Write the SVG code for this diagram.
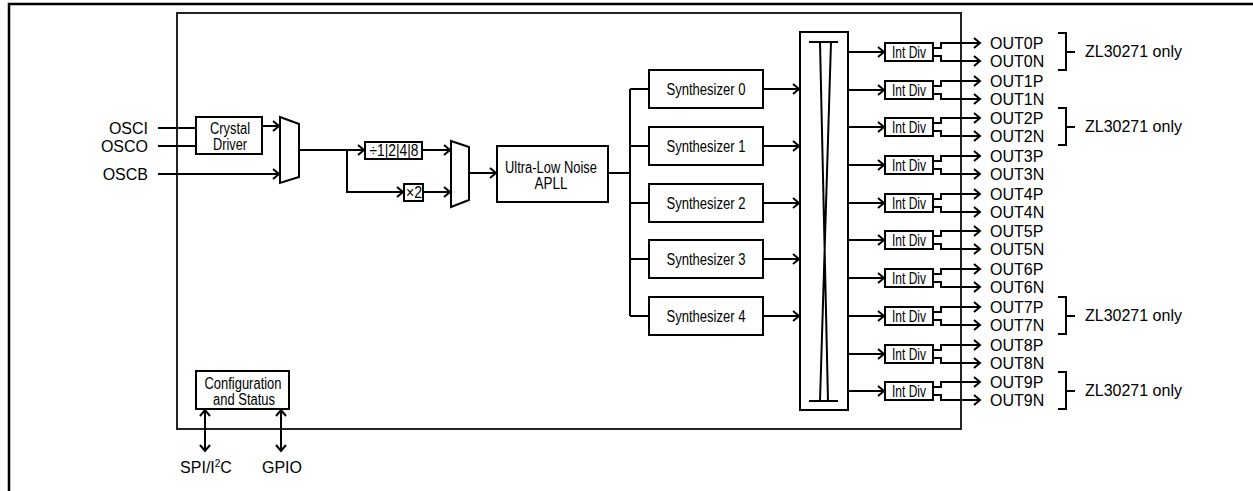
<svg xmlns="http://www.w3.org/2000/svg" width="1253" height="491" viewBox="0 0 1253 491">
<defs>
<style>
.box{fill:#fff;stroke:#000;stroke-width:2}
.ln{fill:none;stroke:#000;stroke-width:2}
.arr{fill:none;stroke:#000;stroke-width:2;marker-end:url(#ah)}
.bi{fill:none;stroke:#000;stroke-width:2;marker-start:url(#ah);marker-end:url(#ah)}
text{font-family:"Liberation Sans",Arial,sans-serif;fill:#000}
.t{font-size:16px;text-anchor:middle}
.ext{font-size:16px}
</style>
<marker id="ah" markerUnits="userSpaceOnUse" markerWidth="12" markerHeight="14" viewBox="-8 -7 10 14" refX="0" refY="0" orient="auto-start-reverse">
<path d="M-6,-5 L0,0 L-6,5" fill="none" stroke="#000" stroke-width="2"/>
</marker>
</defs>
<rect width="1253" height="491" fill="#fff"/>
<g id="frame"><path d="M9,491 V4 H1253" fill="none" stroke="#000" stroke-width="2.5"/></g>
<g id="chip"><rect x="177" y="13" width="784" height="416" fill="none" stroke="#222" stroke-width="2"/></g>

<g id="connectors">
<line class="ln" x1="158" y1="128" x2="196" y2="128"/>
<line class="ln" x1="158" y1="146" x2="196" y2="146"/>
<line class="arr" x1="158" y1="174" x2="279" y2="174"/>
<line class="arr" x1="262" y1="126" x2="279" y2="126"/>
<path class="arr" d="M299,150 H364"/>
<path class="arr" d="M347,150 V192 H403"/>
<line class="arr" x1="422" y1="150" x2="450" y2="150"/>
<line class="arr" x1="423" y1="192" x2="450" y2="192"/>
<line class="arr" x1="469" y1="173" x2="496" y2="173"/>
<path class="ln" d="M608,173 H630 M630,89 V316 M630,89 H649 M630,146 H649 M630,203 H649 M630,259 H649 M630,316 H649"/>
<line class="arr" x1="763" y1="89" x2="799" y2="89"/>
<line class="arr" x1="763" y1="146" x2="799" y2="146"/>
<line class="arr" x1="763" y1="203" x2="799" y2="203"/>
<line class="arr" x1="763" y1="259" x2="799" y2="259"/>
<line class="arr" x1="763" y1="316" x2="799" y2="316"/>
<line class="arr" x1="848" y1="52" x2="884" y2="52"/>
<line class="arr" x1="848" y1="90" x2="884" y2="90"/>
<line class="arr" x1="848" y1="127" x2="884" y2="127"/>
<line class="arr" x1="848" y1="165" x2="884" y2="165"/>
<line class="arr" x1="848" y1="203" x2="884" y2="203"/>
<line class="arr" x1="848" y1="240" x2="884" y2="240"/>
<line class="arr" x1="848" y1="278" x2="884" y2="278"/>
<line class="arr" x1="848" y1="316" x2="884" y2="316"/>
<line class="arr" x1="848" y1="354" x2="884" y2="354"/>
<line class="arr" x1="848" y1="391" x2="884" y2="391"/>
<path class="arr" d="M933,48 H941 V43 H980"/><path class="arr" d="M933,56 H941 V61 H980"/>
<path class="arr" d="M933,86 H941 V81 H980"/><path class="arr" d="M933,94 H941 V99 H980"/>
<path class="arr" d="M933,123 H941 V118 H980"/><path class="arr" d="M933,131 H941 V136 H980"/>
<path class="arr" d="M933,161 H941 V156 H980"/><path class="arr" d="M933,169 H941 V174 H980"/>
<path class="arr" d="M933,199 H941 V194 H980"/><path class="arr" d="M933,207 H941 V212 H980"/>
<path class="arr" d="M933,236 H941 V231 H980"/><path class="arr" d="M933,244 H941 V249 H980"/>
<path class="arr" d="M933,274 H941 V269 H980"/><path class="arr" d="M933,282 H941 V287 H980"/>
<path class="arr" d="M933,312 H941 V307 H980"/><path class="arr" d="M933,320 H941 V325 H980"/>
<path class="arr" d="M933,350 H941 V345 H980"/><path class="arr" d="M933,358 H941 V363 H980"/>
<path class="arr" d="M933,387 H941 V382 H980"/><path class="arr" d="M933,395 H941 V400 H980"/>
<line class="bi" x1="205" y1="410" x2="205" y2="451"/>
<line class="bi" x1="281" y1="410" x2="281" y2="451"/>
</g>

<g id="inputs-labels">
<text class="ext" x="148" y="134" text-anchor="end">OSCI</text>
<text class="ext" x="148" y="152" text-anchor="end">OSCO</text>
<text class="ext" x="148" y="180" text-anchor="end">OSCB</text>
</g>

<g id="crystal-driver">
<rect class="box" x="196" y="117" width="66" height="37"/>
<text class="t" x="230" y="134" textLength="40" lengthAdjust="spacingAndGlyphs">Crystal</text>
<text class="t" x="230" y="150" textLength="34" lengthAdjust="spacingAndGlyphs">Driver</text>
</g>
<g id="mux1"><polygon class="box" points="280,117 299,124 299,177 280,183"/></g>
<g id="div-box">
<rect class="box" x="365" y="142" width="57" height="17"/>
<text class="t" x="394" y="156" textLength="49" lengthAdjust="spacingAndGlyphs">÷1|2|4|8</text>
</g>
<g id="x2-box">
<rect class="box" x="404" y="184" width="19" height="17"/>
<text class="t" x="414" y="198" textLength="16" lengthAdjust="spacingAndGlyphs">×2</text>
</g>
<g id="mux2"><polygon class="box" points="451,141 469,147 469,200 451,207"/></g>
<g id="apll">
<rect class="box" x="497" y="146" width="111" height="56"/>
<text class="t" x="551" y="173" textLength="92" lengthAdjust="spacingAndGlyphs">Ultra-Low Noise</text>
<text class="t" x="551" y="189" textLength="33" lengthAdjust="spacingAndGlyphs">APLL</text>
</g>
<g id="synth0"><rect class="box" x="649" y="70" width="114" height="38"/><text class="t" x="706" y="95" textLength="79" lengthAdjust="spacingAndGlyphs">Synthesizer 0</text></g>
<g id="synth1"><rect class="box" x="649" y="127" width="114" height="38"/><text class="t" x="706" y="152" textLength="79" lengthAdjust="spacingAndGlyphs">Synthesizer 1</text></g>
<g id="synth2"><rect class="box" x="649" y="184" width="114" height="38"/><text class="t" x="706" y="209" textLength="79" lengthAdjust="spacingAndGlyphs">Synthesizer 2</text></g>
<g id="synth3"><rect class="box" x="649" y="240" width="114" height="38"/><text class="t" x="706" y="265" textLength="79" lengthAdjust="spacingAndGlyphs">Synthesizer 3</text></g>
<g id="synth4"><rect class="box" x="649" y="297" width="114" height="38"/><text class="t" x="706" y="322" textLength="79" lengthAdjust="spacingAndGlyphs">Synthesizer 4</text></g>

<g id="crossbar">
<rect class="box" x="800" y="32" width="48" height="378"/>
<path class="ln" d="M809,42 H838 M809,401 H838 M820,42 L828,401 M831,42 L820,401"/>
</g>

<g id="intdiv0"><rect class="box" x="885" y="43" width="48" height="18"/><text class="t" x="909" y="58" textLength="34" lengthAdjust="spacingAndGlyphs">Int Div</text></g>
<g id="intdiv1"><rect class="box" x="885" y="81" width="48" height="18"/><text class="t" x="909" y="96" textLength="34" lengthAdjust="spacingAndGlyphs">Int Div</text></g>
<g id="intdiv2"><rect class="box" x="885" y="118" width="48" height="18"/><text class="t" x="909" y="133" textLength="34" lengthAdjust="spacingAndGlyphs">Int Div</text></g>
<g id="intdiv3"><rect class="box" x="885" y="156" width="48" height="18"/><text class="t" x="909" y="171" textLength="34" lengthAdjust="spacingAndGlyphs">Int Div</text></g>
<g id="intdiv4"><rect class="box" x="885" y="194" width="48" height="18"/><text class="t" x="909" y="209" textLength="34" lengthAdjust="spacingAndGlyphs">Int Div</text></g>
<g id="intdiv5"><rect class="box" x="885" y="231" width="48" height="18"/><text class="t" x="909" y="246" textLength="34" lengthAdjust="spacingAndGlyphs">Int Div</text></g>
<g id="intdiv6"><rect class="box" x="885" y="269" width="48" height="18"/><text class="t" x="909" y="284" textLength="34" lengthAdjust="spacingAndGlyphs">Int Div</text></g>
<g id="intdiv7"><rect class="box" x="885" y="307" width="48" height="18"/><text class="t" x="909" y="322" textLength="34" lengthAdjust="spacingAndGlyphs">Int Div</text></g>
<g id="intdiv8"><rect class="box" x="885" y="345" width="48" height="18"/><text class="t" x="909" y="360" textLength="34" lengthAdjust="spacingAndGlyphs">Int Div</text></g>
<g id="intdiv9"><rect class="box" x="885" y="382" width="48" height="18"/><text class="t" x="909" y="397" textLength="34" lengthAdjust="spacingAndGlyphs">Int Div</text></g>

<g id="outputs-labels">
<text class="ext" x="990" y="49">OUT0P</text><text class="ext" x="990" y="67">OUT0N</text>
<text class="ext" x="990" y="87">OUT1P</text><text class="ext" x="990" y="105">OUT1N</text>
<text class="ext" x="990" y="124">OUT2P</text><text class="ext" x="990" y="142">OUT2N</text>
<text class="ext" x="990" y="162">OUT3P</text><text class="ext" x="990" y="180">OUT3N</text>
<text class="ext" x="990" y="200">OUT4P</text><text class="ext" x="990" y="218">OUT4N</text>
<text class="ext" x="990" y="237">OUT5P</text><text class="ext" x="990" y="255">OUT5N</text>
<text class="ext" x="990" y="275">OUT6P</text><text class="ext" x="990" y="293">OUT6N</text>
<text class="ext" x="990" y="313">OUT7P</text><text class="ext" x="990" y="331">OUT7N</text>
<text class="ext" x="990" y="351">OUT8P</text><text class="ext" x="990" y="369">OUT8N</text>
<text class="ext" x="990" y="388">OUT9P</text><text class="ext" x="990" y="406">OUT9N</text>
</g>

<g id="zl-note0"><path class="ln" d="M1058,33 H1066 V70 H1058 M1066,52 H1075"/><text class="ext" x="1085" y="57">ZL30271 only</text></g>
<g id="zl-note2"><path class="ln" d="M1058,108 H1066 V145 H1058 M1066,127 H1075"/><text class="ext" x="1085" y="132">ZL30271 only</text></g>
<g id="zl-note7"><path class="ln" d="M1058,297 H1066 V334 H1058 M1066,316 H1075"/><text class="ext" x="1085" y="321">ZL30271 only</text></g>
<g id="zl-note9"><path class="ln" d="M1058,372 H1066 V409 H1058 M1066,391 H1075"/><text class="ext" x="1085" y="396">ZL30271 only</text></g>

<g id="config">
<rect class="box" x="196" y="371" width="93" height="38"/>
<text class="t" x="243" y="389" textLength="77" lengthAdjust="spacingAndGlyphs">Configuration</text>
<text class="t" x="244" y="405" textLength="62" lengthAdjust="spacingAndGlyphs">and Status</text>
</g>
<g id="io-labels">
<text class="ext" x="206" y="473" text-anchor="middle">SPI/I<tspan font-size="10" dy="-6">2</tspan><tspan dy="6">C</tspan></text>
<text class="ext" x="282" y="473" text-anchor="middle">GPIO</text>
</g>
</svg>
